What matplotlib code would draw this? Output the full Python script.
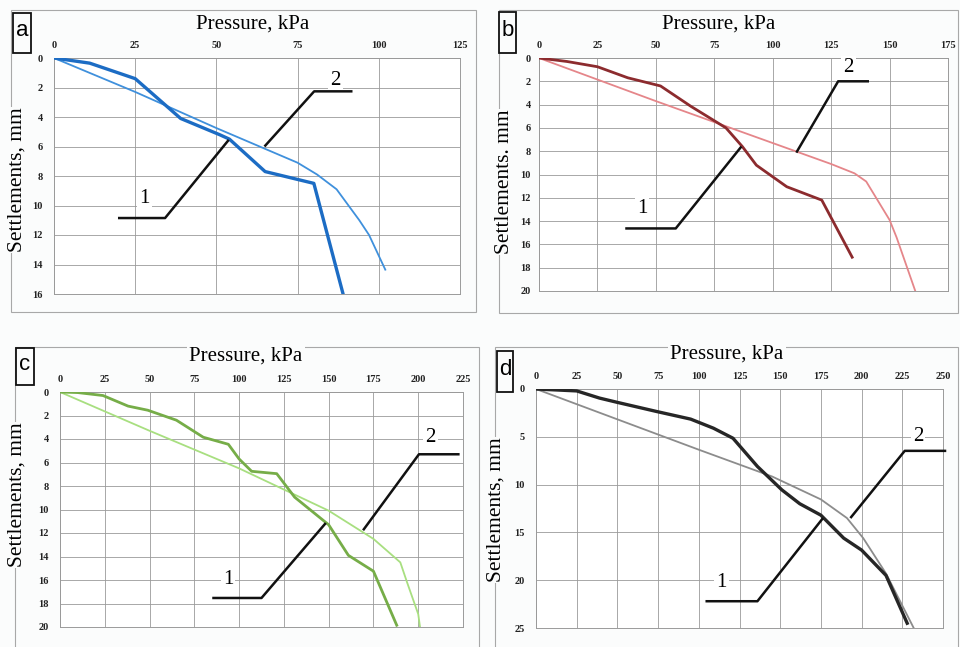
import numpy as np
import matplotlib
matplotlib.use('Agg')
import matplotlib.pyplot as plt
from matplotlib.patches import Rectangle

# --- data (pressure kPa, settlement mm) ---
a1_p = [0, 11, 25, 39, 51, 54, 65, 80, 89]
a1_s = [0, 0.35, 1.4, 4.1, 5.2, 5.5, 7.7, 8.5, 16]
a2_p = [0, 25, 50, 75, 81, 87, 94, 97, 102]
a2_s = [0, 2.3, 4.75, 7.1, 7.9, 8.9, 11, 12, 14.35]

b1_p = [0, 12, 25, 38, 52, 65, 80, 87, 93, 106, 121, 134]
b1_s = [0, 0.3, 0.75, 1.7, 2.4, 4.15, 6.0, 7.6, 9.2, 11.05, 12.2, 17.1]
b2_p = [0, 50, 100, 125, 135, 140, 150, 153, 161]
b2_s = [0, 3.7, 7.3, 9.1, 9.9, 10.6, 13.9, 15.4, 20]

c1_p = [0, 10, 24, 38, 49, 65, 80, 94, 100, 107, 121, 131, 150, 161, 175, 188]
c1_s = [0, 0.05, 0.3, 1.2, 1.55, 2.4, 3.85, 4.45, 5.7, 6.75, 6.95, 8.95, 11.3, 13.9, 15.25, 19.85]
c2_p = [0, 50, 100, 150, 175, 190, 194, 200, 201]
c2_s = [0, 3.3, 6.5, 10.1, 12.5, 14.5, 16.3, 18.9, 20]

d1_p = [0, 25, 39, 50, 74, 95, 109, 121, 136, 151, 162, 175, 189, 200, 215, 228]
d1_s = [0, 0.2, 0.95, 1.4, 2.35, 3.15, 4.1, 5.15, 8.1, 10.55, 12, 13.2, 15.6, 16.85, 19.5, 24.5]
d2_p = [0, 100, 145, 175, 191, 201, 215, 232]
d2_s = [0, 6.35, 9.15, 11.55, 13.5, 15.6, 19.3, 25]

letters = ['a', 'b', 'c', 'd']
ylabels = ['Settlements, mm', 'Settlements. mm', 'Settlements, mm', 'Settlements, mm']
xmax = [125, 175, 225, 250]
ymax = [16, 20, 20, 25]
ystep = [2, 2, 2, 5]

W, H = 960, 647
fig = plt.figure(figsize=(W / 100, H / 100), dpi=100)
bg = '#fbfcfc'
fig.patch.set_facecolor(bg)

serif = 'Liberation Serif'

def fx(px):
    return px / W

def fy(py):
    return 1 - py / H

# axes boxes in pixel coords (left, top, right, bottom)
axbox = [(54, 58, 460, 294), (539, 58, 948, 291), (60, 392, 463, 627), (536, 389, 943, 628)]
frames = [(11, 10, 476, 312), (499, 10, 958, 313), (15, 347, 479, 650), (495, 347, 958, 650)]
lboxes = [(13, 13, 31, 53), (499, 12, 516, 53), (16, 348, 34, 385), (497, 351, 513, 392)]
titles = [(253, 24), (719, 24), (246, 356), (727, 354)]
ylabs = [(17, 180), (505, 182), (17, 495), (496, 510)]
ypads = [8, 6, 8, 8]

series = [
    (a1_p, a1_s, a2_p, a2_s, '#1c6cc4', '#3f90dc'),
    (b1_p, b1_s, b2_p, b2_s, '#8c2b2e', '#e5868a'),
    (c1_p, c1_s, c2_p, c2_s, '#76ad48', '#a8df80'),
    (d1_p, d1_s, d2_p, d2_s, '#262626', '#8c8c8c'),
]

callouts = [
    ([(19.7, 10.85), (34.2, 10.85), (53.8, 5.55)], (27.9, 9.5),
     [(64.8, 6.0), (80.1, 2.26), (91.9, 2.26)], (86.6, 1.5)),
    ([(36.9, 14.63), (58.5, 14.63), (86.6, 7.6)], (44.1, 12.9),
     [(110.1, 8.12), (128, 2.0), (141.2, 2.0)], (132.5, 0.8)),
    ([(85, 17.53), (112.5, 17.53), (148.4, 11.15)], (93.9, 16.0),
     [(169.2, 11.77), (200.4, 5.3), (223.1, 5.3)], (207, 3.9)),
    ([(104.1, 22.2), (136, 22.2), (176.3, 13.5)], (114, 20.2),
     [(193.1, 13.5), (226.5, 6.47), (252, 6.47)], (234.7, 5.0)),
]

for i in range(4):
    # outer panel frame
    l, t, r, b = frames[i]
    fig.patches.append(Rectangle((fx(l), fy(b)), fx(r - l), (b - t) / H,
                                 transform=fig.transFigure, fill=False,
                                 edgecolor='#a8a8a8', linewidth=0.8, zorder=0))
    l, t, r, b = axbox[i]
    ax = fig.add_axes([fx(l), fy(b), fx(r - l), (b - t) / H])
    ax.set_facecolor('white')
    p1, s1, p2, s2, c1, c2 = series[i]
    ax.plot(p2, s2, color=c2, lw=1.3, zorder=3)
    ax.plot(p1, s1, color=c1, lw=2.4 if i in (0, 3) else 2.0, zorder=4)

    ax.set_xlim(0, xmax[i])
    ax.set_ylim(ymax[i], 0)
    ax.set_xticks(np.arange(0, xmax[i] + 1, 25))
    ax.set_yticks(np.arange(0, ymax[i] + 1, ystep[i]))
    ax.xaxis.tick_top()
    ax.tick_params(length=0, labelsize=7.5)
    ax.tick_params(axis='y', pad=ypads[i])
    ax.tick_params(axis='x', pad=6)
    for lab in ax.get_xticklabels() + ax.get_yticklabels():
        lab.set_family(serif)
        lab.set_fontweight('bold')
        lab.set_color('#222222')
    ax.grid(True, color='#9a9a9a', linewidth=0.6)
    ax.set_axisbelow(True)
    for sp in ax.spines.values():
        sp.set_color('#9a9a9a')
        sp.set_linewidth(0.7)

    # leader lines with labels 1 and 2
    line1, lab1, line2, lab2 = callouts[i]
    for txt, pos in (('1', lab1), ('2', lab2)):
        ax.text(pos[0], pos[1], txt, family=serif, fontsize=15, ha='center',
                va='center', zorder=7,
                bbox=dict(boxstyle='square,pad=0.1', facecolor='white', edgecolor='none'))
    for pts in (line1, line2):
        xs = [q[0] for q in pts]
        ys = [q[1] for q in pts]
        ax.plot(xs, ys, color='#111111', lw=1.8, zorder=8, clip_on=False,
                solid_capstyle='butt')

    # panel title, y label and letter box
    tx, ty = titles[i]
    fig.text(fx(tx), fy(ty), 'Pressure, kPa', family=serif, fontsize=15,
             ha='center', va='center', zorder=5,
             bbox=dict(boxstyle='square,pad=0.12', facecolor=bg, edgecolor='none'))
    yx, yy = ylabs[i]
    fig.text(fx(yx), fy(yy), ylabels[i], family=serif, fontsize=15.5,
             rotation=90, ha='center', va='center', zorder=5,
             bbox=dict(boxstyle='square,pad=0.05', facecolor=bg, edgecolor='none'))
    l, t, r, b = lboxes[i]
    fig.patches.append(Rectangle((fx(l), fy(b)), fx(r - l), (b - t) / H,
                                 transform=fig.transFigure, facecolor=bg,
                                 edgecolor='#111111', linewidth=1.3, zorder=6))
    fig.text(fx((l + r) / 2), fy(t + (b - t) * 0.45), letters[i], family='Liberation Sans',
             fontsize=16, ha='center', va='center', zorder=7)

fig.savefig('out.png', dpi=100, facecolor=fig.get_facecolor())
